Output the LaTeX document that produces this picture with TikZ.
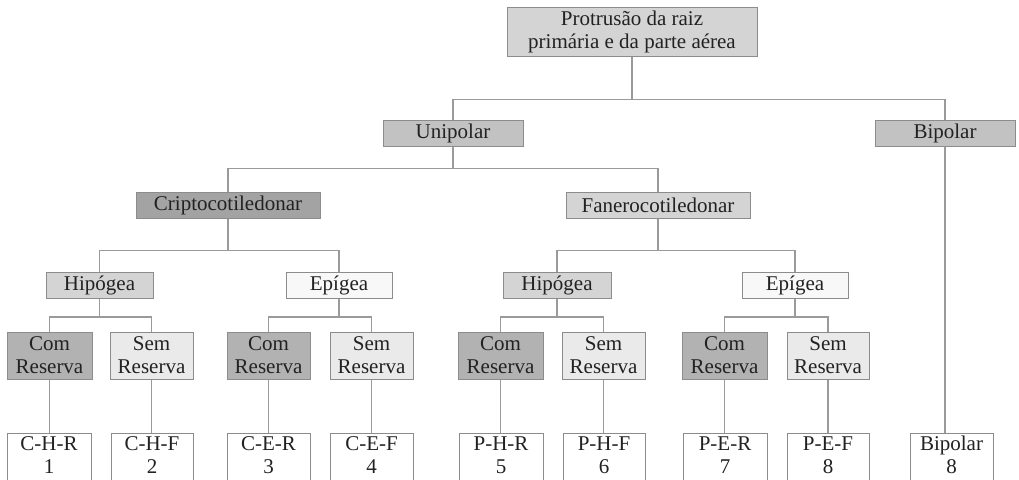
\documentclass[tikz,border=0pt]{standalone}
\usepackage{fontspec}
\setmainfont{Liberation Serif}
\definecolor{bordc}{HTML}{8C8C8C}
\definecolor{linec}{HTML}{9A9A9A}
\definecolor{txtc}{HTML}{222222}
\definecolor{ftop}{HTML}{D4D4D4}
\definecolor{fpol}{HTML}{C2C2C2}
\definecolor{fcri}{HTML}{A3A3A3}
\definecolor{ffan}{HTML}{D4D4D4}
\definecolor{fhip}{HTML}{D4D4D4}
\definecolor{fepi}{HTML}{F8F8F8}
\definecolor{fcom}{HTML}{B2B2B2}
\definecolor{fsem}{HTML}{EAEAEA}
\tikzset{
  box/.style={draw=bordc, line width=1pt, inner sep=0pt, align=center, text=txtc,
    font=\fontsize{21}{23}\selectfont},
  bar/.style={box, minimum height=26pt},
  pair/.style={box, minimum height=47pt},
  leaf/.style={box, fill=white, minimum height=52pt, text depth=8pt},
  conn/.style={draw=linec, line width=1.4pt}
}
\begin{document}
\begin{tikzpicture}[x=1pt,y=-1pt]
\clip (0,0) rectangle (1019,479);
\fill[white] (0,0) rectangle (1019,479);
% top
\node[box, fill=ftop, minimum width=250pt, minimum height=49pt] (top) at (632,31.5) {Protrusão da raiz\\primária e da parte aérea};
\node[bar, fill=fpol, minimum width=140pt] (uni) at (453,133) {Unipolar};
\node[bar, fill=fpol, minimum width=140pt] (bip) at (945,133.5) {Bipolar};
\node[bar, fill=fcri, minimum width=184pt] (cri) at (228,205) {Criptocotiledonar};
\node[bar, fill=ffan, minimum width=184pt] (fan) at (658,205) {Fanerocotiledonar};
\node[bar, fill=fhip, minimum width=107pt] (hipc) at (99.5,285.5) {Hipógea};
\node[bar, fill=fepi, minimum width=106pt] (epic) at (339,285.5) {Epígea};
\node[bar, fill=fhip, minimum width=108pt] (hipp) at (557,285.5) {Hipógea};
\node[bar, fill=fepi, minimum width=106pt] (epip) at (795,285.5) {Epígea};
% com / sem
\node[pair, fill=fcom, minimum width=85pt] (c1) at (49.5,355.5) {Com\\Reserva};
\node[pair, fill=fsem, minimum width=83pt] (s1) at (151.5,355.5) {Sem\\Reserva};
\node[pair, fill=fcom, minimum width=83pt] (c2) at (268.5,355.5) {Com\\Reserva};
\node[pair, fill=fsem, minimum width=83pt] (s2) at (371.5,355.5) {Sem\\Reserva};
\node[pair, fill=fcom, minimum width=85pt] (c3) at (500.5,355.5) {Com\\Reserva};
\node[pair, fill=fsem, minimum width=83pt] (s3) at (603.5,355.5) {Sem\\Reserva};
\node[pair, fill=fcom, minimum width=85pt] (c4) at (724.5,355.5) {Com\\Reserva};
\node[pair, fill=fsem, minimum width=82pt] (s4) at (828,355.5) {Sem\\Reserva};
% leaves
\node[leaf, minimum width=84pt] (l1) at (49,459) {C-H-R\\1};
\node[leaf, minimum width=82pt] (l2) at (152,459) {C-H-F\\2};
\node[leaf, minimum width=83pt] (l3) at (268.5,459) {C-E-R\\3};
\node[leaf, minimum width=83pt] (l4) at (371.5,459) {C-E-F\\4};
\node[leaf, minimum width=84pt] (l5) at (501,459) {P-H-R\\5};
\node[leaf, minimum width=82pt] (l6) at (604,459) {P-H-F\\6};
\node[leaf, minimum width=84pt] (l7) at (725,459) {P-E-R\\7};
\node[leaf, minimum width=82pt] (l8) at (828,459) {P-E-F\\8};
\node[leaf, minimum width=83pt] (l9) at (951.5,459) {Bipolar\\8};
% connectors
\draw[conn] (top.south) -- ++(0,43) -| (uni.north);
\draw[conn] (top.south) -- ++(0,43) -| (bip.north);
\draw[conn] (uni.south) -- ++(0,22) -| (cri.north);
\draw[conn] (uni.south) -- ++(0,22) -| (fan.north);
\draw[conn] (cri.south) -- ++(0,32) -| (hipc.north);
\draw[conn] (cri.south) -- ++(0,32) -| (epic.north);
\draw[conn] (fan.south) -- ++(0,32) -| (hipp.north);
\draw[conn] (fan.south) -- ++(0,32) -| (epip.north);
\draw[conn] (hipc.south) -- ++(0,18) -| (c1.north);
\draw[conn] (hipc.south) -- ++(0,18) -| (s1.north);
\draw[conn] (epic.south) -- ++(0,18) -| (c2.north);
\draw[conn] (epic.south) -- ++(0,18) -| (s2.north);
\draw[conn] (hipp.south) -- ++(0,18) -| (c3.north);
\draw[conn] (hipp.south) -- ++(0,18) -| (s3.north);
\draw[conn] (epip.south) -- ++(0,18) -| (c4.north);
\draw[conn] (epip.south) -- ++(0,18) -| (s4.north);
\draw[conn] (c1.south) -- (c1.south |- l1.north);
\draw[conn] (s1.south) -- (s1.south |- l2.north);
\draw[conn] (c2.south) -- (c2.south |- l3.north);
\draw[conn] (s2.south) -- (s2.south |- l4.north);
\draw[conn] (c3.south) -- (c3.south |- l5.north);
\draw[conn] (s3.south) -- (s3.south |- l6.north);
\draw[conn] (c4.south) -- (c4.south |- l7.north);
\draw[conn] (s4.south) -- (s4.south |- l8.north);
\draw[conn] (bip.south) -- (bip.south |- l9.north);
\end{tikzpicture}
\end{document}
